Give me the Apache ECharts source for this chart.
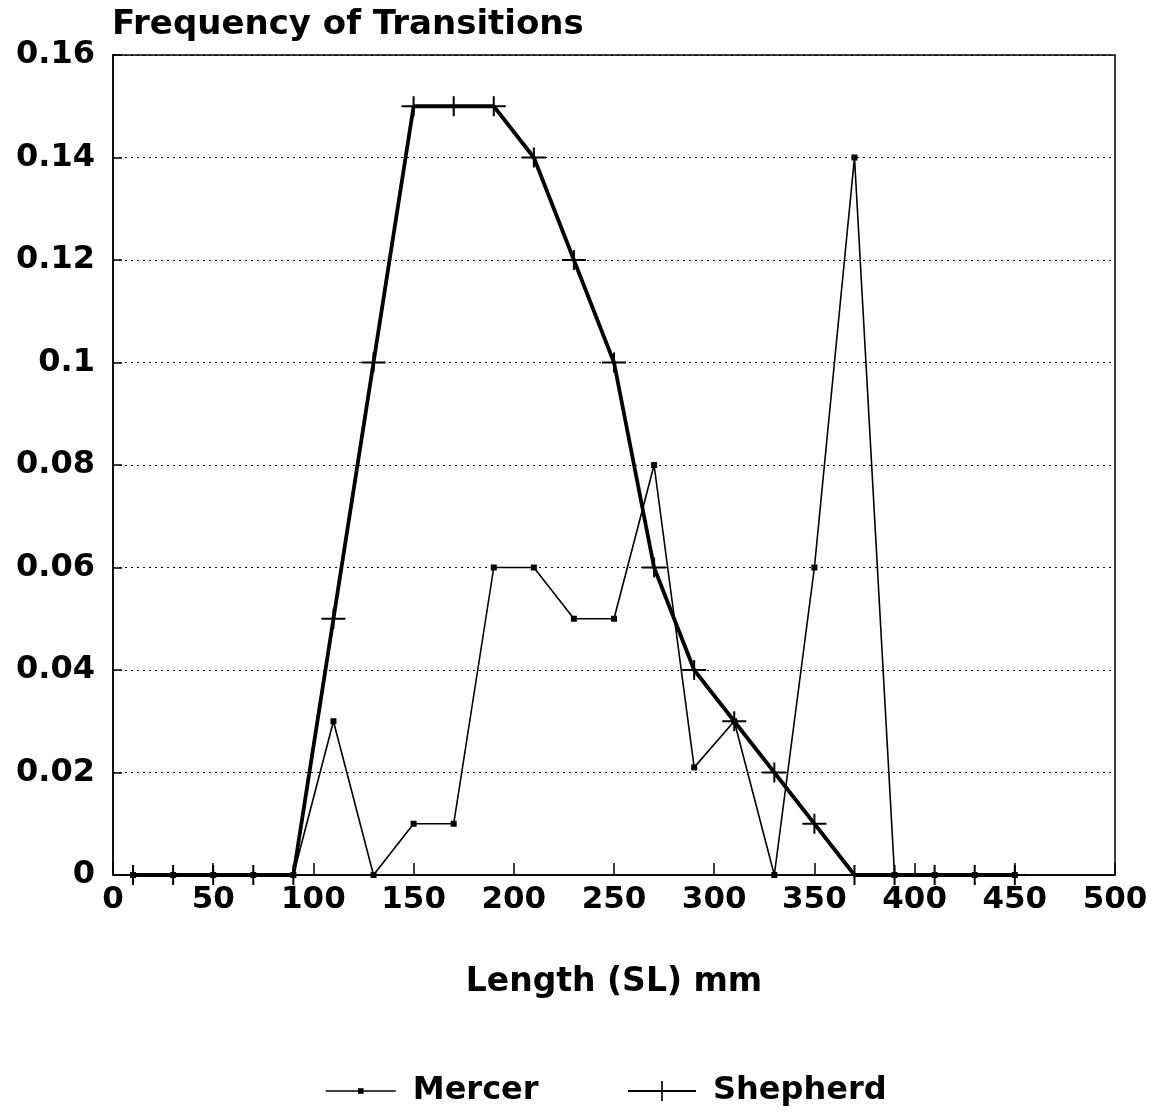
<!DOCTYPE html>
<html><head><meta charset="utf-8">
<script src="https://cdn.jsdelivr.net/npm/echarts@6/dist/echarts.min.js"></script>
<style>html,body{margin:0;padding:0;background:#fff}#c{width:1162px;height:1112px}</style>
</head><body><div id="c"></div>
<script>
const lengths  = [10,30,50,70,90,110,130,150,170,190,210,230,250,270,290,310,330,350,370,390,410,430,450];
const mercer   = [0,0,0,0,0,0.03,0,0.01,0.01,0.06,0.06,0.05,0.05,0.08,0.021,0.03,0,0.06,0.14,0,0,0,0];
const shepherd = [0,0,0,0,0,0.05,0.1,0.15,0.15,0.15,0.14,0.12,0.1,0.06,0.04,0.03,0.02,0.01,0,0,0,0,0];
const seriesNames = ['Mercer','Shepherd'];
const titleText = 'Frequency of Transitions';
const xName = 'Length (SL) mm';

const FONT = 'DejaVu Sans';
const cross = 'path://M0,9H24V11H0Z M11,0H13V20H11Z';
const legendText = {fontFamily:FONT, fontSize:32, fontWeight:'bold', color:'#000', padding:[0,0,0,12]};

const chart = echarts.init(document.getElementById('c'), null, {renderer:'canvas'});
chart.setOption({
  backgroundColor:'#fff',
  animation:false,
  title:{ text:titleText, left:107, top:3,
    textStyle:{fontFamily:FONT, fontSize:34, fontWeight:'bold', color:'#000'} },
  grid:{ left:113, right:47, top:55, bottom:237, show:true, borderColor:'#000', borderWidth:1.5, backgroundColor:'transparent' },
  legend:[
    { left:320, top:1070, itemWidth:70, itemHeight:7, data:[seriesNames[0]],
      lineStyle:{width:1.6}, textStyle:legendText },
    { left:622, top:1070, itemWidth:68, itemHeight:25, data:[seriesNames[1]],
      lineStyle:{width:2}, textStyle:legendText }
  ],
  xAxis:{ type:'value', min:0, max:500, interval:50,
    name:xName, nameLocation:'middle', nameGap:91,
    nameTextStyle:{fontFamily:FONT, fontSize:33, fontWeight:'bold', color:'#000'},
    axisLine:{show:true, lineStyle:{color:'#000', width:1.5}},
    axisTick:{show:true, inside:true, length:12, lineStyle:{color:'#000', width:1.5}},
    axisLabel:{fontFamily:FONT, fontSize:31, fontWeight:'bold', color:'#000', margin:9},
    splitLine:{show:false} },
  yAxis:{ type:'value', min:0, max:0.16, interval:0.02,
    axisLine:{show:true, lineStyle:{color:'#000', width:1.5}},
    axisTick:{show:true, inside:true, length:9, lineStyle:{color:'#000', width:1.5}},
    axisLabel:{fontFamily:FONT, fontSize:32, fontWeight:'bold', color:'#000', margin:18},
    splitLine:{show:true, lineStyle:{color:'#000', width:1.2, type:[2,4]}} },
  series:[
    { name:seriesNames[0], type:'line', data:lengths.map((x,i)=>[x,mercer[i]]),
      symbol:'rect', symbolSize:6, showAllSymbol:true,
      lineStyle:{color:'#000', width:1.6}, itemStyle:{color:'#000'}, z:3 },
    { name:seriesNames[1], type:'line', data:lengths.map((x,i)=>[x,shepherd[i]]),
      symbol:cross, symbolSize:[24,20], showAllSymbol:true,
      lineStyle:{color:'#000', width:3.8}, itemStyle:{color:'#000'}, z:2 }
  ]
});
</script></body></html>
